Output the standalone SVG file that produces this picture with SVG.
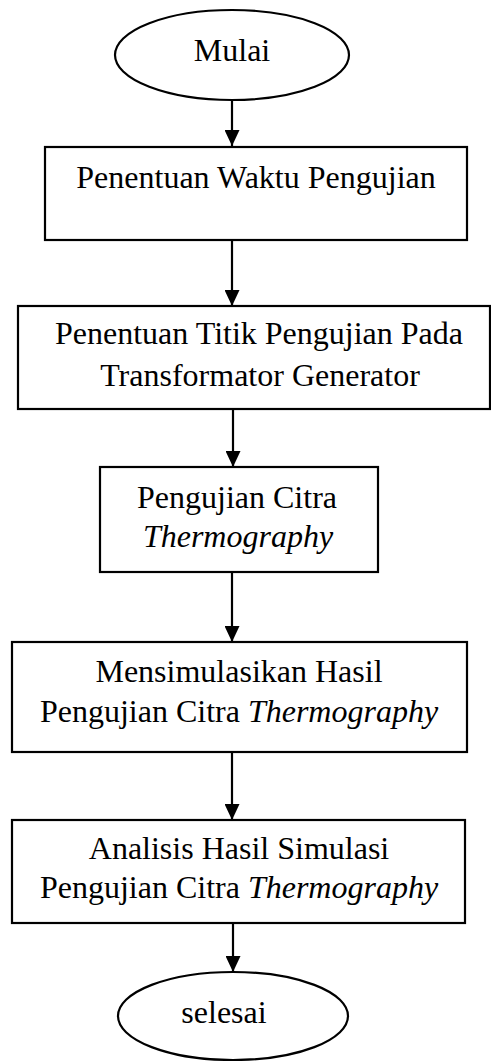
<svg xmlns="http://www.w3.org/2000/svg" width="491" height="1061" viewBox="0 0 491 1061">
  <style>
    .shape { fill: #ffffff; stroke: #000000; stroke-width: 2.2; }
    .label { font-family: "Liberation Serif", "Times New Roman", serif; font-size: 32px; fill: #000000; text-anchor: middle; }
    .it { font-style: italic; }
    .link { stroke: #000000; stroke-width: 2.2; fill: none; marker-end: url(#arrow); }
  </style>
  <defs>
    <marker id="arrow" viewBox="0 0 16 15" refX="16" refY="7.5" markerWidth="16" markerHeight="15" markerUnits="userSpaceOnUse" orient="auto">
      <path d="M0,0 L16,7.5 L0,15 Z" fill="#000000"/>
    </marker>
  </defs>

  <!-- connectors -->
  <g id="connectors">
    <line class="link" x1="232" y1="100" x2="232" y2="146"/>
    <line class="link" x1="232" y1="240" x2="232" y2="306"/>
    <line class="link" x1="233" y1="409" x2="233" y2="467"/>
    <line class="link" x1="232" y1="572" x2="232" y2="642"/>
    <line class="link" x1="232" y1="752" x2="232" y2="820"/>
    <line class="link" x1="233" y1="923" x2="233" y2="972"/>
  </g>

  <g id="start">
    <ellipse class="shape" cx="232" cy="55" rx="117" ry="45"/>
    <text class="label" x="232" y="61">Mulai</text>
  </g>

  <g id="step1">
    <rect class="shape" x="45" y="147" width="422" height="93"/>
    <text class="label" x="256" y="188">Penentuan Waktu Pengujian</text>
  </g>

  <g id="step2">
    <rect class="shape" x="18" y="306" width="472" height="103"/>
    <text class="label" x="259" y="344">Penentuan Titik Pengujian Pada</text>
    <text class="label" x="260" y="386">Transformator Generator</text>
  </g>

  <g id="step3">
    <rect class="shape" x="100" y="467" width="278" height="105"/>
    <text class="label" x="237" y="508">Pengujian Citra</text>
    <text class="label it" x="238" y="547">Thermography</text>
  </g>

  <g id="step4">
    <rect class="shape" x="12" y="642" width="455" height="110"/>
    <text class="label" x="239" y="682">Mensimulasikan Hasil</text>
    <text class="label" x="239" y="722">Pengujian Citra <tspan class="it">Thermography</tspan></text>
  </g>

  <g id="step5">
    <rect class="shape" x="12" y="820" width="453" height="103"/>
    <text class="label" x="239" y="859">Analisis Hasil Simulasi</text>
    <text class="label" x="239" y="898">Pengujian Citra <tspan class="it">Thermography</tspan></text>
  </g>

  <g id="end">
    <ellipse class="shape" cx="233" cy="1016" rx="115" ry="44"/>
    <text class="label" x="224" y="1023">selesai</text>
  </g>
</svg>
